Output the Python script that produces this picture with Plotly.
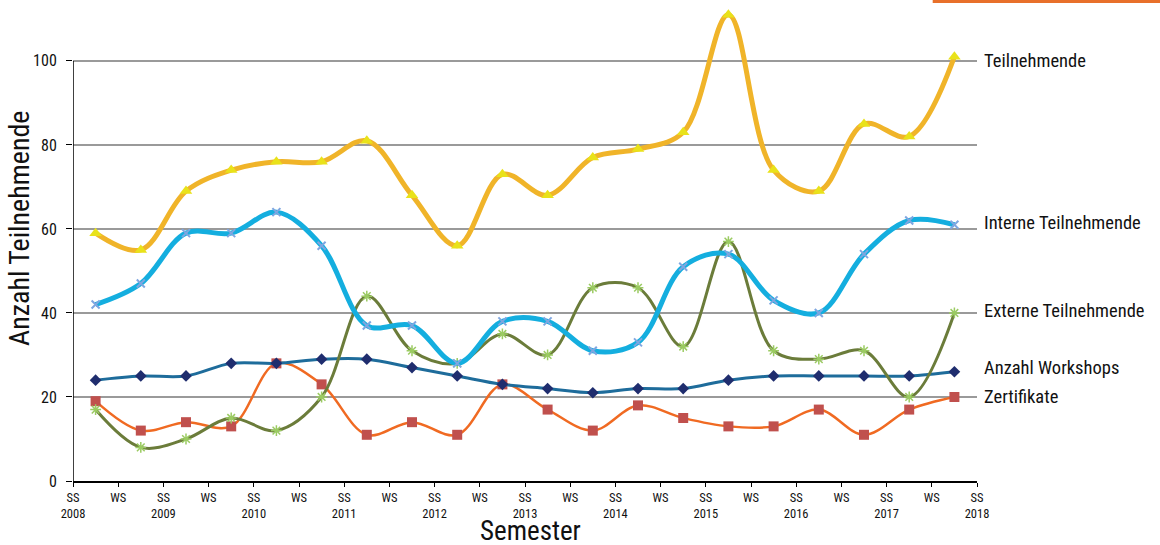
import plotly.graph_objects as go

# Semester boundaries shown on the x axis
tick_labels = ["SS<br>2008", "WS", "SS<br>2009", "WS", "SS<br>2010", "WS", "SS<br>2011", "WS",
               "SS<br>2012", "WS", "SS<br>2013", "WS", "SS<br>2014", "WS", "SS<br>2015", "WS",
               "SS<br>2016", "WS", "SS<br>2017", "WS", "SS<br>2018"]

# One value per semester (SS 2008 ... WS 2017)
teilnehmende = [59, 55, 69, 74, 76, 76, 81, 68, 56, 73, 68, 77, 79, 83, 111, 74, 69, 85, 82, 101]
interne = [42, 47, 59, 59, 64, 56, 37, 37, 28, 38, 38, 31, 33, 51, 54, 43, 40, 54, 62, 61]
externe = [17, 8, 10, 15, 12, 20, 44, 31, 28, 35, 30, 46, 46, 32, 57, 31, 29, 31, 20, 40]
workshops = [24, 25, 25, 28, 28, 29, 29, 27, 25, 23, 22, 21, 22, 22, 24, 25, 25, 25, 25, 26]
zertifikate = [19, 12, 14, 13, 28, 23, 11, 14, 11, 23, 17, 12, 18, 15, 13, 13, 17, 11, 17, 20]

series_names = ["Teilnehmende", "Interne Teilnehmende", "Externe Teilnehmende",
                "Anzahl Workshops", "Zertifikate"]
label_y = [100, 61.5, 40.5, 27, 20]

x_pos = [i + 0.5 for i in range(len(teilnehmende))]

FONT = "Roboto Condensed, Roboto, sans-serif"

styles = [
    (teilnehmende, "#F0B429", 5, dict(symbol="triangle-up", size=11, color="#E9E21A")),
    (interne, "#14AEDF", 5, dict(symbol="x-thin", size=8, color="#7FA6E0",
                                  line=dict(width=2, color="#7FA6E0"))),
    (externe, "#6B7C3A", 3, dict(symbol="asterisk", size=9, color="#9BCB62",
                                  line=dict(width=1.5, color="#9BCB62"))),
    (workshops, "#1E6C9B", 3, dict(symbol="diamond", size=9, color="#1F2D6E")),
    (zertifikate, "#F06A22", 2.5, dict(symbol="square", size=10, color="#C0504D")),
]

fig = go.Figure()
# draw back-to-front so the top series sits above
for (vals, lc, lw, mk), name in reversed(list(zip(styles, series_names))):
    fig.add_trace(go.Scatter(
        x=x_pos, y=vals, name=name, mode="lines+markers",
        line=dict(color=lc, width=lw, shape="spline", smoothing=1.0),
        marker=mk, cliponaxis=False, showlegend=False,
    ))

# series names at the right edge
for name, yv in zip(series_names, label_y):
    fig.add_annotation(x=1, xref="paper", xshift=5, y=yv, yref="y", text=name,
                       showarrow=False, xanchor="left", yanchor="middle",
                       font=dict(family=FONT, size=18.5, color="#111111"))

# axis titles
fig.add_annotation(x=0, xref="paper", xshift=-53, y=60, yref="y", text="Anzahl Teilnehmende",
                   textangle=-90, showarrow=False, xanchor="center", yanchor="middle",
                   font=dict(family=FONT, size=28, color="#111111"))
fig.add_annotation(x=0.5066, xref="paper", y=0, yref="paper", yshift=-50, text="Semester",
                   showarrow=False, xanchor="center", yanchor="middle",
                   font=dict(family=FONT, size=27, color="#111111"))

# y axis line up to 100
fig.add_shape(type="line", xref="x", yref="y", x0=0, x1=0, y0=0, y1=100,
              line=dict(color="#000000", width=1.5))
# accent bar in the top-right corner
fig.add_shape(type="rect", xref="paper", yref="paper", x0=0.951, x1=1.21, y0=1.004, y1=1.012,
              line=dict(width=0), fillcolor="#E8702A")

fig.update_layout(
    width=1160, height=545,
    margin=dict(l=73, r=183, t=5, b=64, autoexpand=False),
    paper_bgcolor="white", plot_bgcolor="white",
    xaxis=dict(range=[0, 20], tickmode="array", tickvals=list(range(21)), ticktext=tick_labels,
               showgrid=False, zeroline=False, showline=True, linecolor="#000000", linewidth=1.5,
               ticks="outside", ticklen=4, tickcolor="#000000", automargin=False,
               tickfont=dict(family=FONT, size=12.5, color="#111111")),
    yaxis=dict(range=[0, 113.3], tickmode="array", tickvals=[0, 20, 40, 60, 80, 100],
               showgrid=True, gridcolor="#9A9A9A", gridwidth=1.5, zeroline=False,
               showline=False, ticks="outside", ticklen=6, tickcolor="#000000",
               ticklabelstandoff=6, automargin=False,
               tickfont=dict(family=FONT, size=16, color="#111111")),
)

fig.write_html("out.html")
